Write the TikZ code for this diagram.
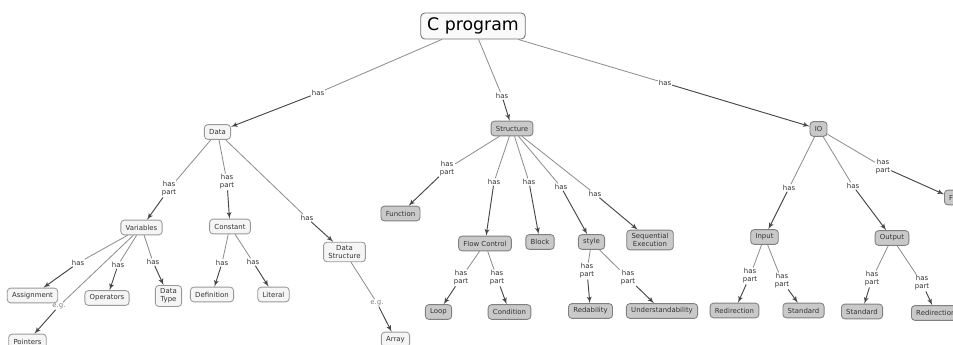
\documentclass[tikz,border=0pt]{standalone}
\usepackage{fontspec}
\setsansfont{DejaVu Sans}
\usetikzlibrary{arrows,shapes}

\begin{document}
\begin{tikzpicture}[x=0.75pt, y=-0.75pt, >=latex']
    \tikzstyle{every node} = [font=\sffamily\fontsize{5.2}{6}\selectfont, text=black!80]
    \tikzstyle{concept} = [align=center, draw, rounded corners=2.5pt, line width=0.65pt, inner xsep=3.6pt, inner ysep=2.4pt, minimum height=11pt]
    \tikzstyle{whitebox} = [concept, draw=black!40, fill=black!4]
    \tikzstyle{greybox} = [concept, draw=black!50, fill=black!21]
    \tikzstyle{rel} = [align=center, fill=white, inner sep=0.6pt]
    \tikzstyle{eglabel} = [rel, text=black!50]
    \tikzstyle{link} = [draw=black!45, line width=0.6pt]
    \tikzstyle{linkto} = [link, ->, draw=black!72, line width=0.7pt]

    \useasboundingbox [fill=white] (0,0) rectangle (953,345);

    % concepts
    \node (cprog) [concept, draw=black!55, fill=black!2, text=black, font=\sffamily\fontsize{13}{15}\selectfont, inner xsep=4.8pt, minimum height=19.5pt, rounded corners=3pt] at (473,26) {C program};

    \node (data) [whitebox] at (217.5,132) {Data};
    \node (vars) [whitebox] at (141.5,227.5) {Variables};
    \node (const) [whitebox] at (230,226.5) {Constant};
    \node (datastr) [whitebox] at (344.5,252) {Data\\Structure};
    \node (assign) [whitebox] at (32.5,295.5) {Assignment};
    \node (oper) [whitebox] at (107,298) {Operators};
    \node (dtype) [whitebox] at (168.5,296) {Data\\Type};
    \node (defn) [whitebox] at (212,294.5) {Definition};
    \node (literal) [whitebox] at (273.5,294.5) {Literal};
    \node (pointers) [whitebox] at (27.5,341.5) {Pointers};
    \node (array) [whitebox] at (395.5,339.5) {Array};

    \node (struct) [greybox] at (512,128.5) {Structure};
    \node (func) [greybox] at (400.5,213.5) {Function};
    \node (flow) [greybox] at (485,243.5) {Flow Control};
    \node (block) [greybox] at (540,242) {Block};
    \node (style) [greybox] at (591.5,242) {style};
    \node (seq) [greybox] at (650,240) {Sequential\\Execution};
    \node (loop) [greybox] at (438.5,312) {Loop};
    \node (cond) [greybox] at (509.5,312) {Condition};
    \node (redab) [greybox] at (590.5,311) {Redability};
    \node (underst) [greybox] at (662,311) {Understandability};

    \node (io) [greybox] at (818.5,129) {IO};
    \node (file) [greybox, anchor=west] at (944,197.5) {F};
    \node (input) [greybox] at (764.5,237) {Input};
    \node (output) [greybox] at (892,238) {Output};
    \node (redirin) [greybox] at (734.5,310.5) {Redirection};
    \node (stdin) [greybox] at (803.5,310.5) {Standard};
    \node (stdout) [greybox] at (862,311.5) {Standard};
    \node (redirout) [greybox, anchor=west] at (911,313) {Redirection};

    % linking phrases
    \node (hasdata) [rel] at (318,93) {has};
    \node (hasstruct) [rel] at (502,96) {has};
    \node (hasio) [rel] at (665,83) {has};
    \node (partvars) [rel] at (169,189) {has\\part};
    \node (partconst) [rel] at (227,182) {has\\part};
    \node (hasdatastr) [rel] at (307,218) {has};
    \node (hasassign) [rel] at (78,263) {has};
    \node (hasoper) [rel] at (118,265) {has};
    \node (hasdtype) [rel] at (153,262) {has};
    \node (egpointers) [eglabel] at (59,306) {e.g.};
    \node (hasdefn) [rel] at (222,263) {has};
    \node (hasliteral) [rel] at (253,262) {has};
    \node (egarray) [eglabel] at (377,303) {e.g.};
    \node (partfunc) [rel] at (447,169) {has\\part};
    \node (hasflow) [rel] at (494,182) {has};
    \node (hasblock) [rel] at (529,182) {has};
    \node (hasstyle) [rel] at (561,187) {has};
    \node (hasseq) [rel] at (595,194) {has};
    \node (partloop) [rel] at (461,278) {has\\part};
    \node (partcond) [rel] at (497,278) {has\\part};
    \node (partredab) [rel] at (587,271) {has\\part};
    \node (partunderst) [rel] at (628,278) {has\\part};
    \node (hasinput) [rel] at (789,188) {has};
    \node (hasoutput) [rel] at (853,186) {has};
    \node (partfile) [rel] at (883,167) {has\\part};
    \node (partredirin) [rel] at (750,276) {has\\part};
    \node (partstdin) [rel] at (782,281) {has\\part};
    \node (partstdout) [rel] at (872,279) {has\\part};
    \node (partredirout) [rel] at (922,283) {has\\part};

    % links
    \draw [link] (cprog) -- (hasdata);     \draw [linkto] (hasdata) -- (data);
    \draw [link] (cprog) -- (hasstruct);   \draw [linkto] (hasstruct) -- (struct);
    \draw [link] (cprog) -- (hasio);       \draw [linkto] (hasio) -- (io);

    \draw [link] (data) -- (partvars);     \draw [linkto] (partvars) -- (vars);
    \draw [link] (data) -- (partconst);    \draw [linkto] (partconst) -- (const);
    \draw [link] (data) -- (hasdatastr);   \draw [linkto] (hasdatastr) -- (datastr);
    \draw [link] (vars) -- (hasassign);    \draw [linkto] (hasassign) -- (assign);
    \draw [link] (vars) -- (hasoper);      \draw [linkto] (hasoper) -- (oper);
    \draw [link] (vars) -- (hasdtype);     \draw [linkto] (hasdtype) -- (dtype);
    \draw [link] (vars) -- (egpointers);   \draw [linkto] (egpointers) -- (pointers);
    \draw [link] (const) -- (hasdefn);     \draw [linkto] (hasdefn) -- (defn);
    \draw [link] (const) -- (hasliteral);  \draw [linkto] (hasliteral) -- (literal);
    \draw [link] (datastr) -- (egarray);   \draw [linkto] (egarray) -- (array);

    \draw [link] (struct) -- (partfunc);   \draw [linkto] (partfunc) -- (func);
    \draw [link] (struct) -- (hasflow);    \draw [linkto] (hasflow) -- (flow);
    \draw [link] (struct) -- (hasblock);   \draw [linkto] (hasblock) -- (block);
    \draw [link] (struct) -- (hasstyle);   \draw [linkto] (hasstyle) -- (style);
    \draw [link] (struct) -- (hasseq);     \draw [linkto] (hasseq) -- (seq);
    \draw [link] (flow) -- (partloop);     \draw [linkto] (partloop) -- (loop);
    \draw [link] (flow) -- (partcond);     \draw [linkto] (partcond) -- (cond);
    \draw [link] (style) -- (partredab);   \draw [linkto] (partredab) -- (redab);
    \draw [link] (style) -- (partunderst); \draw [linkto] (partunderst) -- (underst);

    \draw [link] (io) -- (hasinput);       \draw [linkto] (hasinput) -- (input);
    \draw [link] (io) -- (hasoutput);      \draw [linkto] (hasoutput) -- (output);
    \draw [link] (io) -- (partfile);       \draw [linkto] (partfile) -- (file);
    \draw [link] (input) -- (partredirin); \draw [linkto] (partredirin) -- (redirin);
    \draw [link] (input) -- (partstdin);   \draw [linkto] (partstdin) -- (stdin);
    \draw [link] (output) -- (partstdout); \draw [linkto] (partstdout) -- (stdout);
    \draw [link] (output) -- (partredirout); \draw [linkto] (partredirout) -- (redirout);
\end{tikzpicture}
\end{document}
